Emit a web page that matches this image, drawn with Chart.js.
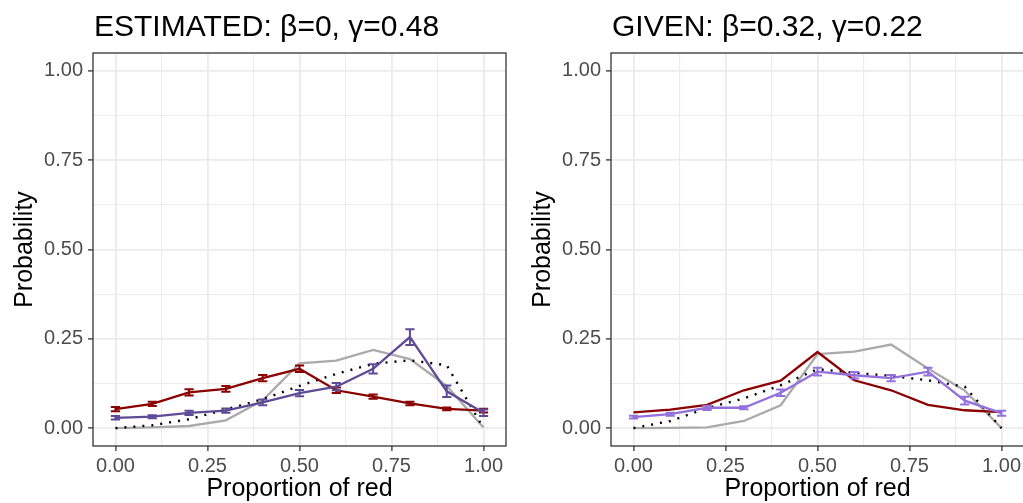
<!DOCTYPE html>
<html>
<head>
<meta charset="utf-8">
<script src="https://cdn.jsdelivr.net/npm/chart.js@4.4.1/dist/chart.umd.min.js"></script>
<style>
  html, body { margin: 0; padding: 0; background: #fff; overflow: hidden; }
  body { width: 1023px; height: 503px; position: relative; }
  canvas { position: absolute; top: 0; }
  #estChart { left: 0; }
  #givChart { left: 518px; }
</style>
</head>
<body>
<canvas id="estChart" width="512" height="503"></canvas>
<canvas id="givChart" width="512" height="503"></canvas>
<script>
const proportions = [0, 0.1, 0.2, 0.3, 0.4, 0.5, 0.6, 0.7, 0.8, 0.9, 1.0];
const axisTicks = [0, 0.25, 0.5, 0.75, 1];

// ESTIMATED: beta=0, gamma=0.48
const estGrey = [0, 0.002, 0.006, 0.022, 0.078, 0.181, 0.189, 0.219, 0.193, 0.118, 0.002];
const estDotted = [0, 0.008, 0.025, 0.052, 0.081, 0.118, 0.152, 0.180, 0.190, 0.176, 0];
const estRed = [0.053, 0.068, 0.100, 0.110, 0.140, 0.166, 0.106, 0.088, 0.069, 0.054, 0.049];
const estRedErr = [0.006, 0.006, 0.009, 0.008, 0.009, 0.009, 0.008, 0.006, 0.005, 0.004, 0.005];
const estPurple = [0.029, 0.032, 0.043, 0.049, 0.072, 0.098, 0.116, 0.166, 0.255, 0.103, 0.043];
const estPurpleErr = [0.005, 0.004, 0.006, 0.006, 0.008, 0.009, 0.010, 0.013, 0.022, 0.016, 0.009];

// GIVEN: beta=0.32, gamma=0.22
const givGrey = [0, 0.001, 0.002, 0.020, 0.064, 0.207, 0.214, 0.234, 0.167, 0.105, 0];
const givDotted = [0, 0.020, 0.056, 0.083, 0.120, 0.165, 0.155, 0.146, 0.134, 0.116, 0];
const givRed = [0.044, 0.052, 0.065, 0.106, 0.133, 0.213, 0.134, 0.106, 0.065, 0.050, 0.045];
const givPurple = [0.031, 0.039, 0.057, 0.057, 0.099, 0.158, 0.148, 0.140, 0.158, 0.077, 0.042];
const givPurpleErr = [0.004, 0.004, 0.006, 0.004, 0.009, 0.011, 0.009, 0.009, 0.011, 0.011, 0.007];

const FONT = '"Liberation Sans", Arial, sans-serif';

// major ticks plus the minor lines halfway between them
const gridValues = [];
axisTicks.forEach((v, i) => {
  gridValues.push(v);
  if (i < axisTicks.length - 1) gridValues.push((v + axisTicks[i + 1]) / 2);
});
const isMajor = v => axisTicks.some(t => Math.abs(t - v) < 1e-9);

const pts = ys => ys.map((y, i) => ({ x: proportions[i], y: y }));

const errorBars = {
  id: 'errorBars',
  afterDatasetDraw(chart, args) {
    const ds = chart.data.datasets[args.index];
    if (!ds.errors) return;
    const { ctx, scales: { x, y } } = chart;
    ctx.save();
    ctx.strokeStyle = ds.borderColor;
    ctx.lineWidth = 2;
    ds.data.forEach((p, i) => {
      const px = x.getPixelForValue(p.x);
      const lo = y.getPixelForValue(p.y - ds.errors[i]);
      const hi = y.getPixelForValue(p.y + ds.errors[i]);
      ctx.beginPath();
      ctx.moveTo(px - 4.6, hi); ctx.lineTo(px + 4.6, hi);
      ctx.moveTo(px, hi); ctx.lineTo(px, lo);
      ctx.moveTo(px - 4.6, lo); ctx.lineTo(px + 4.6, lo);
      ctx.stroke();
    });
    ctx.restore();
  }
};

// panel border and the heading above it
const panelFrame = {
  id: 'panelFrame',
  afterDraw(chart, args, opts) {
    const { ctx, chartArea: a } = chart;
    ctx.save();
    ctx.strokeStyle = '#333333';
    ctx.lineWidth = 1.3;
    ctx.strokeRect(a.left, a.top, a.right - a.left, a.bottom - a.top);
    ctx.fillStyle = '#000';
    ctx.font = '30px ' + FONT;
    ctx.textBaseline = 'alphabetic';
    ctx.textAlign = 'left';
    ctx.fillText(opts.text, a.left + 1, 36);
    ctx.restore();
  }
};

function gridOpts() {
  return {
    color: '#ebebeb',
    lineWidth: c => (c.tick && isMajor(c.tick.value)) ? 1.8 : 1.1,
    drawTicks: true,
    tickLength: 5,
    tickWidth: 1.3,
    tickColor: c => (c.tick && isMajor(c.tick.value)) ? '#333333' : 'rgba(0,0,0,0)'
  };
}

function makePanel(canvasId, title, grey, dotted, red, redErr, purple, purpleErr, purpleColor) {
  return new Chart(document.getElementById(canvasId), {
    type: 'line',
    data: {
      datasets: [
        { label: 'purple', data: pts(purple), errors: purpleErr, borderColor: purpleColor, borderWidth: 2.3 },
        { label: 'red', data: pts(red), errors: redErr, borderColor: '#8b0000', borderWidth: 2.3 },
        { label: 'dotted', data: pts(dotted), borderColor: '#000000', borderWidth: 2.4, borderDash: [2, 7] },
        { label: 'grey', data: pts(grey), borderColor: '#aaaaaa', borderWidth: 2.3 }
      ]
    },
    options: {
      responsive: false,
      animation: false,
      elements: { point: { radius: 0 }, line: { tension: 0, fill: false } },
      layout: { padding: { top: 53, right: 6, left: 0, bottom: 0 } },
      plugins: {
        legend: { display: false },
        tooltip: { enabled: false },
        panelFrame: { text: title }
      },
      scales: {
        x: {
          type: 'linear',
          min: -0.061,
          max: 1.061,
          afterBuildTicks: s => { s.ticks = gridValues.map(v => ({ value: v })); },
          afterFit: s => { s.height = 57; },
          grid: gridOpts(),
          border: { display: false },
          ticks: {
            autoSkip: false,
            maxRotation: 0,
            padding: 3,
            color: '#4d4d4d',
            font: { family: FONT, size: 20 },
            callback: v => isMajor(v) ? v.toFixed(2) : ''
          },
          title: {
            display: true,
            text: 'Proportion of red',
            color: '#000',
            font: { family: FONT, size: 25, lineHeight: 1 },
            padding: { top: 0, bottom: 1 }
          }
        },
        y: {
          type: 'linear',
          min: -0.05,
          max: 1.05,
          afterBuildTicks: s => { s.ticks = gridValues.map(v => ({ value: v })); },
          afterFit: s => { s.width = 93; },
          grid: gridOpts(),
          border: { display: false },
          ticks: {
            autoSkip: false,
            padding: 5,
            color: '#4d4d4d',
            font: { family: FONT, size: 20 },
            callback: v => isMajor(v) ? v.toFixed(2) : ''
          },
          title: {
            display: true,
            text: 'Probability',
            color: '#000',
            font: { family: FONT, size: 25, lineHeight: 1.2 },
            padding: { top: 10, bottom: 0 }
          }
        }
      }
    },
    plugins: [errorBars, panelFrame]
  });
}

makePanel('estChart', 'ESTIMATED: β=0, γ=0.48', estGrey, estDotted, estRed, estRedErr, estPurple, estPurpleErr, '#5e4b96');
makePanel('givChart', 'GIVEN: β=0.32, γ=0.22', givGrey, givDotted, givRed, null, givPurple, givPurpleErr, '#9370db');
</script>
</body>
</html>
